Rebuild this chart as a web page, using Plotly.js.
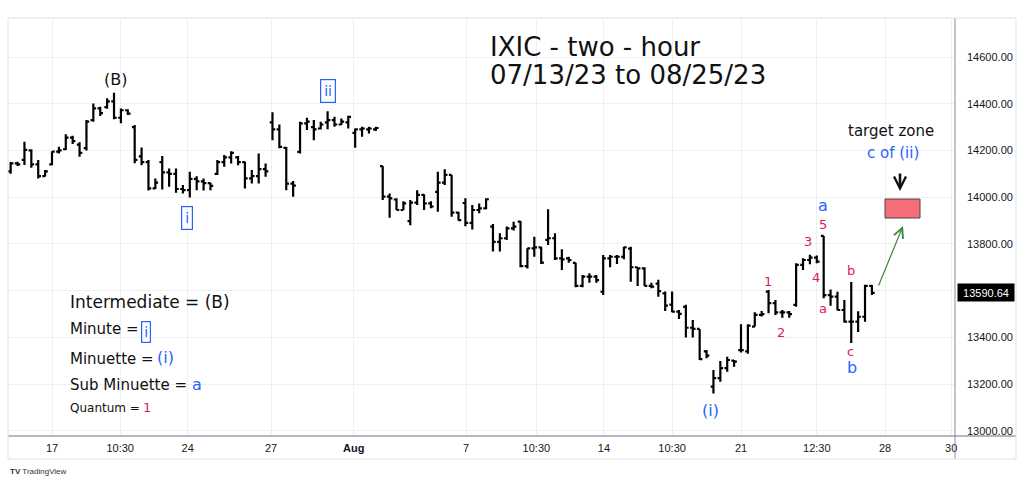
<!DOCTYPE html>
<html><head><meta charset="utf-8">
<script src="https://cdn.plot.ly/plotly-3.0.1.min.js"></script>
<style>html,body{margin:0;padding:0;background:#fff}#chart{width:1023px;height:484px}</style>
</head><body><div id="chart"></div>
<script>
// ---- data (2-hour bars, IXIC, 07/13/23 – 08/25/23) ----
const openPrices = [14110,14145,14160,14200,14140,14090,14140,14195,14205,14255,
14225,14210,14330,14380,14385,14410,14340,14372,14300,14175,
14150,14038,14150,14106,14100,14035,14030,14078,14068,14060,
14100,14150,14170,14170,14150,14080,14090,14120,14320,14290,
14211,14058,14194,14316,14300,14294,14320,14330,14311,14320,
14275,14290,14290,14290,14133,14002,13990,13945,13897,13977,
14010,13973,14023,14062,14095,13934,13975,13890,13945,13952,
13874,13809,13824,13866,13895,13705,13781,13785,13817,13824,
13738,13738,13719,13620,13660,13660,13595,13738,13745,13745,
13780,13700,13695,13620,13630,13588,13540,13510,13530,13441,
13436,13340,13189,13225,13268,13300,13345,13340,13446,13496,
13596,13546,13507,13507,13539,13710,13731,13741,13834,13581,
13574,13517,13467,13467,13488,13620];
const highPrices = [14150,14152,14237,14205,14159,14116,14197,14216,14269,14263,
14235,14330,14401,14387,14423,14447,14380,14376,14309,14213,
14159,14080,14176,14123,14123,14052,14109,14090,14080,14062,
14159,14180,14197,14176,14152,14116,14187,14144,14363,14311,
14215,14069,14323,14340,14330,14323,14368,14344,14337,14349,
14294,14301,14301,14301,14133,14016,13995,13983,13988,14030,
14012,13983,14109,14119,14095,13938,13995,13966,13973,13995,
13885,13845,13874,13895,13898,13781,13831,13788,13948,13845,
13777,13745,13719,13667,13674,13667,13752,13752,13752,13788,
13788,13700,13700,13634,13646,13596,13596,13517,13539,13474,
13436,13346,13260,13299,13317,13303,13456,13456,13507,13513,
13603,13560,13517,13513,13717,13738,13753,13750,13834,13605,
13595,13560,13637,13512,13625,13624];
const lowPrices = [14100,14133,14138,14126,14080,14088,14137,14187,14202,14228,
14173,14200,14323,14347,14378,14333,14316,14352,14145,14137,
14028,14035,14033,14045,14019,14016,13999,14030,14028,14030,
14095,14130,14144,14137,14037,14059,14059,14087,14244,14209,
14030,14002,14187,14287,14244,14290,14291,14301,14309,14294,
14211,14259,14273,14283,13988,13912,13945,13945,13880,13966,
13945,13952,13938,14052,13916,13899,13876,13862,13931,13948,
13767,13767,13817,13857,13700,13695,13745,13714,13795,13731,
13688,13719,13614,13614,13634,13634,13581,13700,13714,13734,
13638,13620,13620,13610,13574,13513,13507,13478,13399,13399,
13303,13310,13160,13210,13253,13274,13335,13330,13446,13489,
13503,13496,13484,13484,13531,13688,13713,13717,13567,13535,
13516,13462,13376,13423,13467,13581];
const closePrices = [14145,14140,14202,14140,14090,14110,14195,14200,14255,14240,
14190,14323,14380,14360,14410,14340,14372,14358,14160,14150,
14038,14062,14106,14100,14035,14030,14078,14068,14060,14048,
14150,14170,14190,14150,14080,14090,14120,14110,14290,14215,
14058,14049,14316,14323,14290,14311,14330,14311,14323,14344,
14290,14294,14294,14296,14002,13995,13945,13973,13977,14010,
13973,13960,14062,14095,13934,13902,13890,13945,13952,13991,
13809,13824,13866,13874,13705,13781,13785,13720,13824,13738,
13734,13731,13620,13660,13660,13645,13738,13745,13745,13785,
13700,13695,13620,13617,13598,13536,13510,13500,13441,13436,
13307,13322,13225,13268,13303,13296,13345,13450,13496,13499,
13546,13507,13507,13499,13710,13731,13741,13724,13581,13574,
13517,13467,13467,13488,13620,13590.64];
const xTickLabels = ['17','10:30','24','27','<b>Aug</b>','7','10:30','14','10:30','21','12:30','28','30'];
const xTickBars   = [6, 15.9, 25.7, 37.8, 49.8, 66.1, 76.3, 86.1, 96.0, 106.0, 117.0, 126.9, 136.5];
const yTickValues = [13000,13200,13400,13600,13800,14000,14200,14400,14600];
const yTickLabels = ['13000.00','13200.00','13400.00','','13800.00','14000.00','14200.00','14400.00','14600.00'];
const lastPrice = 13590.64;

// ---- pixel helpers for annotation placement ----
const PX_PER_BAR = 6.89, PX_PER_PT = 0.2336;
const X = px => (px - 52) / PX_PER_BAR + 6;
const Y = py => 14600 - (py - 57) / PX_PER_PT;
const barIndex = openPrices.map((_, i) => i);

const BLACK = '#111', BLUE = '#2962ff', RED = '#d81b60';
const F = 'DejaVu Sans, Verdana, sans-serif';

function txt(t, px, py, size, color, extra) {
  return Object.assign({text: t, x: X(px), y: Y(py), xref: 'x', yref: 'y', showarrow: false,
    xanchor: 'center', yanchor: 'middle', font: {family: F, size: size, color: color}}, extra || {});
}
function boxed(t, px, py, size, pad) {
  return txt(t, px, py, size, BLUE, {bordercolor: BLUE, borderwidth: 1.2, borderpad: pad});
}

const annotations = [
  txt('IXIC - two - hour', 488, 47, 26, BLACK, {xanchor: 'left'}),
  txt('07/13/23 to 08/25/23', 488, 75, 26, BLACK, {xanchor: 'left'}),
  txt('(B)', 115, 79, 16, BLACK),
  boxed('ii', 328, 91, 14, 3),
  boxed('i', 187, 218, 14, 3),
  txt('target zone', 891, 131, 15, BLACK),
  txt('c of (ii)', 893, 153, 15, BLUE),
  txt('1', 768, 281, 13, RED), txt('2', 781, 332, 13, RED),
  txt('3', 808, 241, 13, RED), txt('4', 816, 277, 13, RED),
  txt('5', 822.5, 224, 13, RED),
  txt('a', 823, 205, 16, BLUE), txt('a', 822.5, 308, 13, RED),
  txt('b', 851, 270, 13, RED), txt('c', 850, 351, 13, RED),
  txt('b', 851.5, 367, 16, BLUE),
  txt('(i)', 710, 410, 16, BLUE),
  // wave-degree key
  txt('Intermediate = (B)', 68, 302, 17, BLACK, {xanchor: 'left'}),
  txt('Minute = ', 68, 329, 15, BLACK, {xanchor: 'left'}),
  boxed('i', 145.5, 332, 14, 2),
  txt('Minuette = ', 68, 359, 15, BLACK, {xanchor: 'left'}),
  txt('(i)', 165.5, 357, 16, BLUE),
  txt('Sub Minuette = ', 68, 385, 15, BLACK, {xanchor: 'left'}),
  txt('a', 196.5, 384, 16, BLUE),
  txt('Quantum = ', 68, 408, 12, BLACK, {xanchor: 'left'}),
  txt('1', 146.5, 407, 13, RED),
  // arrows
  {x: X(900), y: Y(191), xref: 'x', yref: 'y', text: '', showarrow: true, ax: 0, ay: -19,
   arrowhead: 5, arrowsize: 0.9, arrowwidth: 2.6, arrowcolor: '#111'},
  {x: X(903), y: Y(226), xref: 'x', yref: 'y', text: '', showarrow: true, ax: -25, ay: 61,
   arrowhead: 5, arrowsize: 1.6, arrowwidth: 1.2, arrowcolor: '#3b8a3e'},
  // last price tag
  {text: lastPrice.toFixed(2), xref: 'paper', yref: 'y', x: (957 - 8) / 947, y: lastPrice,
   xanchor: 'left', yanchor: 'middle', showarrow: false, bgcolor: '#000', width: 54, height: 15,
   borderpad: 1, font: {family: 'Liberation Sans, Arial, sans-serif', size: 11, color: '#fff'}},
  {text: '<b>TV</b> TradingView', xref: 'paper', yref: 'paper', x: 0, y: -(471 - 436) / 418,
   xanchor: 'left', yanchor: 'middle', showarrow: false,
   font: {family: 'Liberation Sans, Arial, sans-serif', size: 8, color: '#333'}}
];

const shapes = [
  {type: 'rect', xref: 'x', yref: 'y', x0: X(885), x1: X(920), y0: Y(218), y1: Y(199),
   fillcolor: '#f56e78', line: {color: '#444', width: 1}},
  // frame lines
  {type: 'line', xref: 'paper', yref: 'paper', x0: 0, x1: (1016 - 8) / 947, y0: 0, y1: 0,
   line: {color: '#9ea1aa', width: 1.5}},
  {type: 'line', xref: 'paper', yref: 'paper', x0: 1, x1: 1, y0: -(459 - 436) / 418, y1: 1,
   line: {color: '#8a8d96', width: 1}},
  {type: 'rect', xref: 'paper', yref: 'paper', x0: 0, x1: (1016 - 8) / 947, y0: -(459 - 436) / 418, y1: 1,
   line: {color: '#e0e3eb', width: 1}}
];

const trace = {
  type: 'ohlc', x: barIndex, open: openPrices, high: highPrices, low: lowPrices, close: closePrices,
  increasing: {line: {color: '#000', width: 2.2}}, decreasing: {line: {color: '#000', width: 2.2}},
  tickwidth: 0.4, hoverinfo: 'skip'
};

const layout = {
  width: 1023, height: 484,
  margin: {l: 8, r: 68, t: 18, b: 48},
  paper_bgcolor: '#fff', plot_bgcolor: '#fff', showlegend: false,
  xaxis: {range: [X(8), X(955)], rangeslider: {visible: false}, tickmode: 'array',
    tickvals: xTickBars, ticktext: xTickLabels, showgrid: true, gridcolor: '#eef0f3', gridwidth: 1,
    zeroline: false, showline: false, ticks: '', ticklabelstandoff: 4,
    tickfont: {family: 'Liberation Sans, Arial, sans-serif', size: 11, color: '#131722'}},
  yaxis: {range: [Y(436), Y(18)], side: 'right', tickmode: 'array', tickvals: yTickValues,
    ticktext: yTickLabels, showgrid: true, gridcolor: '#eef0f3',
    zeroline: false, showline: false, ticks: '', ticklabelstandoff: 11,
    tickfont: {family: 'Liberation Sans, Arial, sans-serif', size: 11, color: '#131722'}},
  annotations: annotations, shapes: shapes
};

Plotly.newPlot('chart', [trace], layout, {staticPlot: true, displayModeBar: false});
</script></body></html>
